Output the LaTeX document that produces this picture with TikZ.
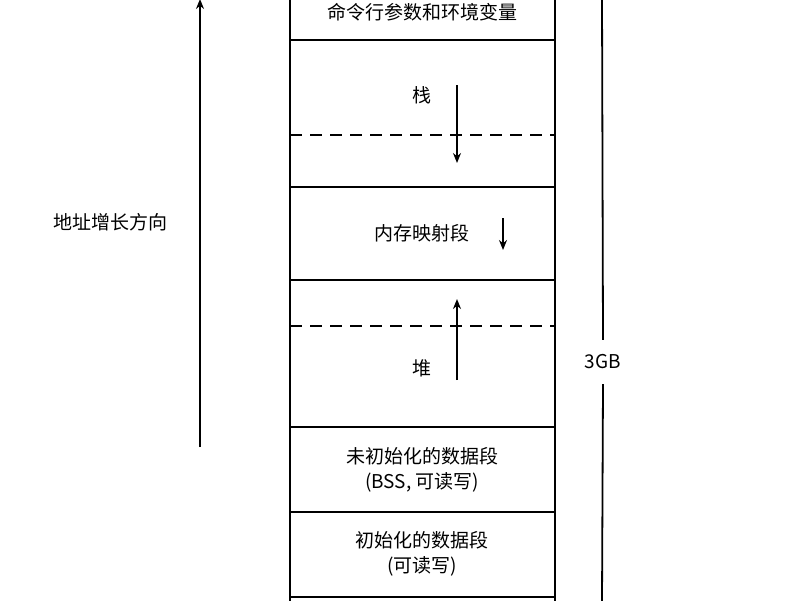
\documentclass[tikz,border=0pt]{standalone}
\usepackage{fontspec}
\setmainfont{Noto Sans CJK SC}
\usetikzlibrary{arrows.meta}
\begin{document}
\begin{tikzpicture}[x=1pt,y=-1pt,line width=1.8pt,
    every node/.style={font=\fontsize{19}{25}\selectfont},
    growth/.style={-{Stealth[length=10pt,width=8pt]}}]
    \useasboundingbox (0,0) rectangle (800,600);
    % Draw the memory column
    \draw (290,-2) -- (290,602);
    \draw (555,-2) -- (555,602);
    \foreach \y in {40,187,280,427,512,597}
        \draw (290,\y) -- (555,\y);
    \foreach \y in {135,326}
        \draw[dash pattern=on 12pt off 8pt] (290,\y) -- (555,\y);
    % Segment labels
    \node (args) at (422,12) {命令行参数和环境变量};
    \node (stack) at (422,95) {栈};
    \node (mmap) at (422,233) {内存映射段};
    \node (heap) at (422,368) {堆};
    \node[align=center] (bss) at (422,470) {未初始化的数据段\\(BSS, 可读写)};
    \node[align=center] (data) at (422,554) {初始化的数据段\\(可读写)};
    % Growth arrows
    \coordinate (s0) at (457,85);  \coordinate (s1) at (457,163);
    \coordinate (m0) at (503,218); \coordinate (m1) at (503,250);
    \coordinate (h0) at (457,380); \coordinate (h1) at (457,299);
    \draw[growth] (s0) -- (s1);
    \draw[growth] (m0) -- (m1);
    \draw[growth] (h0) -- (h1);
    % Address direction
    \coordinate (a0) at (200,447); \coordinate (a1) at (200,-1);
    \draw[growth] (a0) -- (a1);
    \node (dir) at (110,222) {地址增长方向};
    % 3GB span
    \node[inner sep=14pt] (gb) at (603,362) {3GB};
    \draw (602,-2) -- (gb.north);
    \draw (gb.south) -- (602,602);
\end{tikzpicture}
\end{document}
